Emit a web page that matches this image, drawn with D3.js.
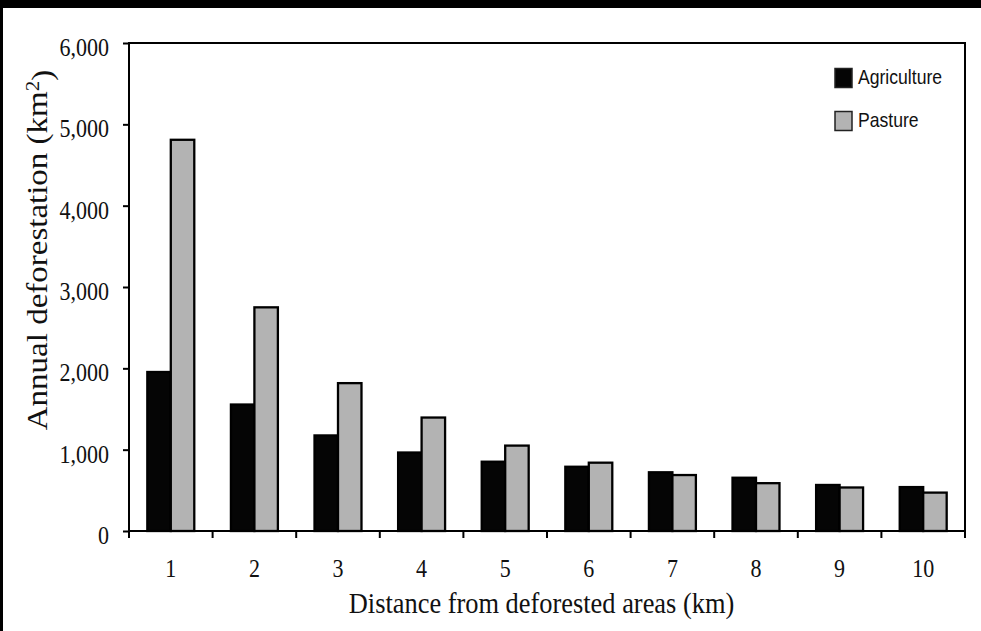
<!DOCTYPE html>
<html lang="en">
<head>
<meta charset="UTF-8">
<title>Annual deforestation by distance</title>
<script src="https://d3js.org/d3.v7.min.js"></script>
<style>
  html, body { margin: 0; background: #fff; overflow: hidden; }
  svg { display: block; }
  .tick line { stroke: #000; stroke-width: 2; }
  .domain { stroke: none; }
</style>
</head>
<body>
<div id="chart"></div>
<script>
// data
const distances = ["1", "2", "3", "4", "5", "6", "7", "8", "9", "10"];
const seriesNames = ["Agriculture", "Pasture"];
const agriculture = [1955, 1555, 1175, 965, 852, 790, 722, 655, 566, 540];
const pasture = [4810, 2750, 1818, 1395, 1050, 840, 688, 588, 535, 472];
const yTicks = [0, 1000, 2000, 3000, 4000, 5000, 6000];
const colors = { Agriculture: "#050505", Pasture: "#b3b3b3" };

const width = 981, height = 631;
const margin = { top: 43, right: 16, bottom: 100, left: 129 };
const sx = 0.88; // the source picture is squeezed horizontally

const rows = distances.map((d, i) => ({ d, Agriculture: agriculture[i], Pasture: pasture[i] }));

const svg = d3.select("#chart").append("svg")
    .attr("width", width)
    .attr("height", height);

// black bands on top and left, as in the scan
svg.append("rect").attr("width", width).attr("height", 8).attr("fill", "#000");
svg.append("rect").attr("width", 3).attr("height", height).attr("fill", "#000");

const x = d3.scaleBand()
    .domain(distances)
    .range([margin.left, width - margin.right])
    .padding(0);

const x1 = d3.scaleBand()
    .domain(seriesNames)
    .range([0, x.bandwidth()])
    .paddingInner(0)
    .paddingOuter(0.78);

const y = d3.scaleLinear()
    .domain([0, 6000])
    .range([height - margin.bottom, margin.top]);

// bars
svg.append("g")
  .selectAll("g")
  .data(rows)
  .join("g")
    .attr("transform", d => `translate(${x(d.d)},0)`)
  .selectAll("rect")
  .data(d => seriesNames.map(k => ({ k, v: d[k] })))
  .join("rect")
    .attr("x", d => x1(d.k))
    .attr("y", d => y(d.v))
    .attr("width", x1.bandwidth())
    .attr("height", d => y(0) - y(d.v))
    .attr("fill", d => colors[d.k])
    .attr("stroke", "#000")
    .attr("stroke-width", 2.3);

// plot frame
svg.append("rect")
    .attr("x", margin.left)
    .attr("y", margin.top)
    .attr("width", width - margin.left - margin.right)
    .attr("height", height - margin.top - margin.bottom)
    .attr("fill", "none")
    .attr("stroke", "#000")
    .attr("stroke-width", 2);

// y axis
const yAxis = svg.append("g")
    .attr("transform", `translate(${margin.left},0)`)
    .call(d3.axisLeft(y).tickValues(yTicks).tickSize(6).tickFormat(d3.format(",")));
yAxis.selectAll("text")
    .attr("x", -22.7)
    .attr("dy", "0.5em")
    .attr("transform", `scale(${sx},1)`)
    .attr("fill", "#111")
    .style("font-family", "'Liberation Serif', 'Times New Roman', serif")
    .style("font-size", "25px");

// x axis, ticks sit on the category boundaries
const xAxis = svg.append("g")
    .attr("transform", `translate(0,${height - margin.bottom})`)
    .call(d3.axisBottom(x).tickSize(0));
xAxis.selectAll("text")
    .attr("y", 46)
    .attr("dy", 0)
    .attr("transform", `scale(${sx},1)`)
    .attr("fill", "#111")
    .style("font-family", "'Liberation Serif', 'Times New Roman', serif")
    .style("font-size", "25px");
xAxis.selectAll(".bound")
  .data(distances.concat(["end"]))
  .join("line")
    .attr("class", "bound")
    .attr("x1", (d, i) => i < distances.length ? x(d) : x.range()[1])
    .attr("x2", (d, i) => i < distances.length ? x(d) : x.range()[1])
    .attr("y1", 0)
    .attr("y2", 7)
    .attr("stroke", "#000")
    .attr("stroke-width", 2);

// axis titles
svg.append("text")
    .attr("transform", `translate(541.5,613) scale(${sx},1)`)
    .attr("text-anchor", "middle")
    .attr("fill", "#111")
    .style("font-family", "'Liberation Serif', 'Times New Roman', serif")
    .style("font-size", "30px")
    .text("Distance from deforested areas (km)");

const yTitle = svg.append("text")
    .attr("transform", `translate(47,250) rotate(-90) scale(1,${sx})`)
    .attr("text-anchor", "middle")
    .attr("fill", "#111")
    .style("font-family", "'Liberation Serif', 'Times New Roman', serif")
    .style("font-size", "33px");
yTitle.append("tspan").text("Annual deforestation (km");
yTitle.append("tspan").attr("dy", "-0.45em").style("font-size", "21px").text("2");
yTitle.append("tspan").attr("dy", "0.45em").text(")");

// legend
const legend = svg.append("g")
  .selectAll("g")
  .data(seriesNames)
  .join("g")
    .attr("transform", (d, i) => `translate(835,${68.5 + i * 43})`);
legend.append("rect")
    .attr("width", 17)
    .attr("height", 19)
    .attr("fill", d => colors[d])
    .attr("stroke", "#222")
    .attr("stroke-width", 1.5);
legend.append("text")
    .attr("transform", `translate(23,15) scale(${sx},1)`)
    .attr("fill", "#111")
    .style("font-family", "'Liberation Sans', Arial, sans-serif")
    .style("font-size", "20px")
    .text(d => d);
</script>
</body>
</html>
